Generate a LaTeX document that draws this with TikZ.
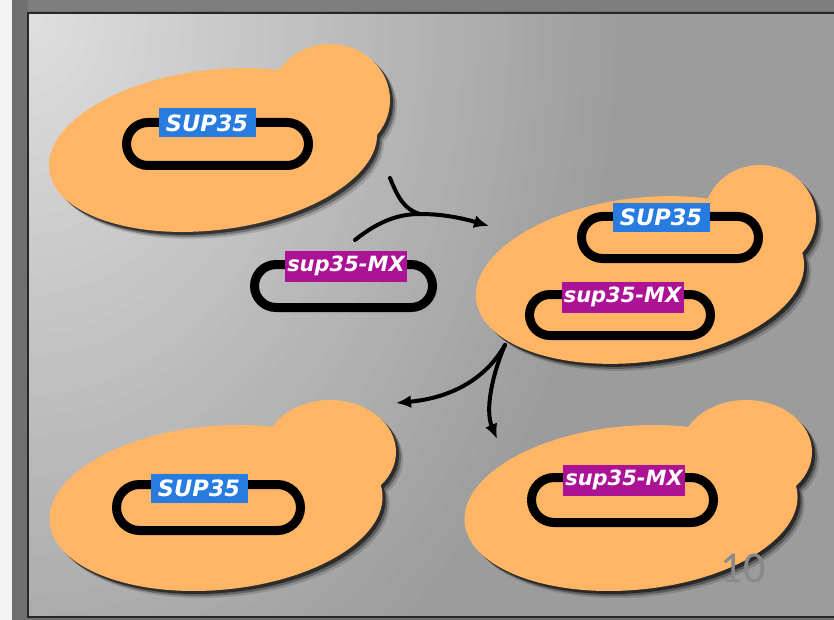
\documentclass[tikz,border=0pt]{standalone}
\usepackage{fontspec}
\newfontfamily\labelfont{DejaVu Sans}
\newfontfamily\numfont{Carlito}
\usetikzlibrary{shapes.misc,arrows.meta}

\definecolor{stripwhite}{RGB}{243,243,243}
\definecolor{framegray}{RGB}{112,112,112}
\definecolor{topband}{RGB}{126,126,126}
\definecolor{glowin}{RGB}{222,222,222}
\definecolor{glowout}{RGB}{156,156,156}
\definecolor{cellorange}{RGB}{255,181,102}
\definecolor{genblue}{RGB}{40,124,224}
\definecolor{genmagenta}{RGB}{172,18,148}
\definecolor{numgray}{RGB}{138,138,138}

% yeast cells: mother cell body plus bud
\def\cellA{(213,150) circle[x radius=165, y radius=80, rotate=7] (330,100) circle[x radius=60, y radius=56]}
\def\cellB{(640,280) circle[x radius=165, y radius=82, rotate=7] (760,218) circle[x radius=56, y radius=53]}
\def\cellC{(216,508) circle[x radius=167, y radius=82, rotate=5] (330,452) circle[x radius=66, y radius=52]}
\def\cellD{(631,508) circle[x radius=167, y radius=82, rotate=5] (746,452) circle[x radius=66, y radius=52]}

\tikzset{
  plasmid/.style={rounded rectangle, draw=black, line width=9pt, inner sep=0pt},
  genelabel/.style={inner sep=0pt, text=white},
  wtgene/.style={genelabel, fill=genblue, minimum width=97pt, minimum height=29pt,
    font=\labelfont\bfseries\itshape\fontsize{22.5}{22.5}\selectfont},
  mxgene/.style={genelabel, fill=genmagenta, minimum width=122pt, minimum height=31pt,
    font=\labelfont\bfseries\itshape\fontsize{21}{21}\selectfont},
  flow/.style={line width=4pt, line cap=round},
  flowtip/.style={flow, -{Latex[length=15pt,width=13pt]}},
  cellshade/.style={fill=black}
}

\newcommand{\drawcell}[1]{%
  \fill[cellshade, opacity=0.15, shift={(7,7)}] #1;
  \fill[cellshade, opacity=0.30, shift={(5,5)}] #1;
  \fill[cellshade, opacity=0.55, shift={(3,3)}] #1;
  \fill[cellorange] #1;
}

\begin{document}
\begin{tikzpicture}[x=1pt,y=-1pt]
\useasboundingbox (0,0) rectangle (834,620);

% slide frame
\fill[stripwhite] (0,0) rectangle (12,620);
\fill[framegray] (12,0) rectangle (834,620);
\fill[topband] (28,0) rectangle (834,11);

% panel with a soft light glow from the upper left (stepped ellipses)
\begin{scope}
  \clip (28,13) rectangle (834,616);
  \fill[glowout] (28,13) rectangle (834,616);
  \foreach \i in {0,...,39}{
    \pgfmathsetmacro{\f}{1-\i/40}
    \pgfmathsetmacro{\p}{100*\i/39}
    \fill[glowin!\p!glowout] (30,15) circle[x radius=\f*600, y radius=\f*800];
  }
\end{scope}
\draw[black!85, line width=2.5pt] (28,13) rectangle (836,617);

% cells
\drawcell{\cellA}
\drawcell{\cellB}
\drawcell{\cellC}
\drawcell{\cellD}

% plasmids
\node[plasmid, minimum width=182pt, minimum height=43pt] (pA) at (217.5,144) {};
\node[plasmid, minimum width=178pt, minimum height=43pt] (pFree) at (343.5,286) {};
\node[plasmid, minimum width=177pt, minimum height=42pt] (pBwt) at (670,237.5) {};
\node[plasmid, minimum width=181pt, minimum height=41pt] (pBmx) at (620,315) {};
\node[plasmid, minimum width=184pt, minimum height=46pt] (pC) at (208.5,507.5) {};
\node[plasmid, minimum width=182pt, minimum height=45pt] (pD) at (622.5,500) {};

% gene labels
\node[wtgene] (lA) at (207,123) {SUP35};
\node[mxgene] (lFree) at (346,266) {sup35-MX};
\node[wtgene] (lBwt) at (661,217.5) {SUP35};
\node[mxgene] (lBmx) at (622.5,297) {sup35-MX};
\node[wtgene] (lC) at (199,488) {SUP35};
\node[mxgene] (lD) at (624,480) {sup35-MX};

% mating: two inputs merging into one arrow
\coordinate (inCell) at (390,178);
\coordinate (inPlasmid) at (355,240);
\coordinate (merge) at (420,214);
\coordinate (toZygote) at (489,226);
\draw[flow] (inCell) .. controls (398,198) and (405,210) .. (merge);
\draw[flowtip] (inPlasmid) .. controls (380,220) and (400,214) .. (merge)
  .. controls (445,214) and (465,219) .. (toZygote);

% segregation: one source splitting into two arrows
\coordinate (split) at (505,345);
\coordinate (toWt) at (396,403);
\coordinate (toMx) at (497,439);
\draw[flowtip] (split) .. controls (485,380) and (450,398) .. (toWt);
\draw[flowtip] (split) .. controls (492,375) and (485,410) .. (toMx);

% slide number
\node[text=numgray, font=\numfont\fontsize{44}{44}\selectfont, inner sep=0pt] (slideno) at (743,568) {10};
\end{tikzpicture}
\end{document}
